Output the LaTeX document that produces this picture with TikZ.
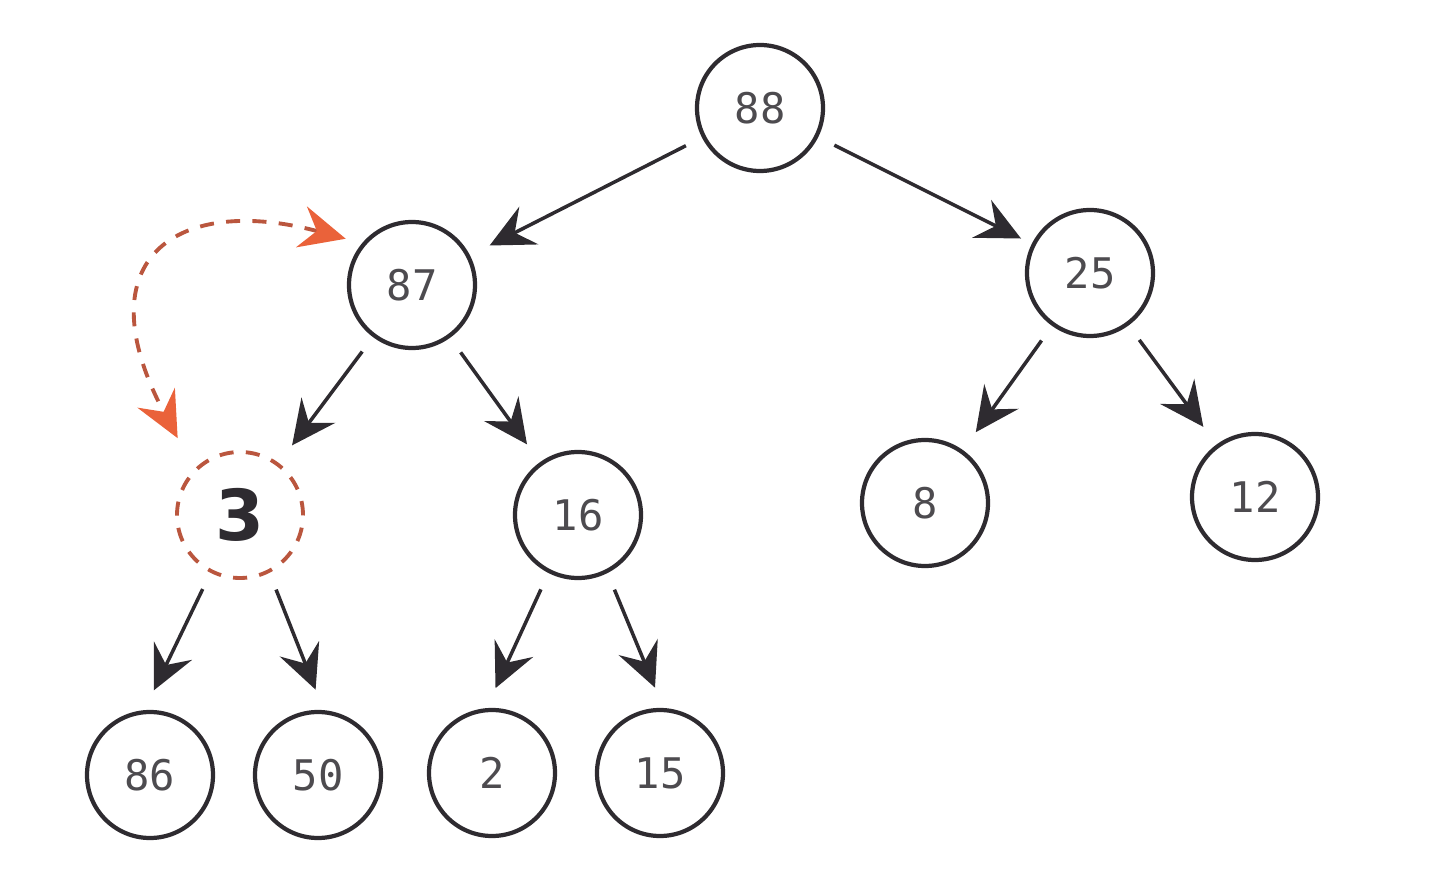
\documentclass[tikz,border=0pt]{standalone}
\usepackage{fontspec}
\setmonofont{DejaVu Sans Mono}
\setsansfont{DejaVu Sans}
\usetikzlibrary{arrows.meta}
\definecolor{heapink}{RGB}{46,43,48}
\definecolor{heaporange}{RGB}{234,98,58}
\definecolor{heapdash}{RGB}{186,86,62}

\begin{document}
\begin{tikzpicture}[
    every node/.style={circle, draw=heapink, line width=1.2pt, minimum size=1.26cm, inner sep=0pt,
      text=heapink!85, font=\ttfamily\fontsize{12}{14}\selectfont},
    link/.style={draw=heapink, line width=1pt, -{Stealth[length=12.5pt,width=12pt,inset=4.5pt]},
      shorten <=0.18cm, shorten >=0.22cm},
    moved/.style={draw=heapdash, line width=1.1pt, dash pattern=on 4pt off 3.5pt},
    swaparrow/.style={draw=heapdash, line width=1.1pt, dash pattern=on 4pt off 3.5pt,
      {Stealth[length=13pt,width=12pt,inset=4.5pt,color=heaporange]}-{Stealth[length=13pt,width=12pt,inset=4.5pt,color=heaporange]},
      shorten <=0.17cm, shorten >=0.35cm}]
  \useasboundingbox (0,0) rectangle (14.4,8.8);

  \node (88) at (7.60,7.72) {88};
  \node (87) at (4.12,5.95) {87};
  \node (25) at (10.90,6.07) {25};
  \node[moved, text=heapink, font=\sffamily\bfseries\fontsize{20}{24}\selectfont] (3) at (2.40,3.65) {3};
  \node (16) at (5.78,3.65) {16};
  \node (8) at (9.25,3.77) {8};
  \node (12) at (12.55,3.83) {12};
  \node (86) at (1.50,1.05) {86};
  \node (50) at (3.18,1.05) {50};
  \node (2) at (4.92,1.07) {2};
  \node (15) at (6.60,1.07) {15};

  \draw[link] (88)--(87); \draw[link, shorten >=0.12cm] (88)--(25);
  \draw[link] (87)--(3); \draw[link] (87)--(16);
  \draw[link] (25)--(8); \draw[link] (25)--(12);
  \draw[link] (3.243)--(86.95); \draw[link] (3.297)--(50.85);
  \draw[link] (16.243)--(2.95); \draw[link] (16.297)--(15.87);

  % swap of 87 and 3
  \draw[swaparrow] (87.140) to[out=165, in=118, out distance=1.9cm, in distance=2.4cm] (3.135);
\end{tikzpicture}
\end{document}
